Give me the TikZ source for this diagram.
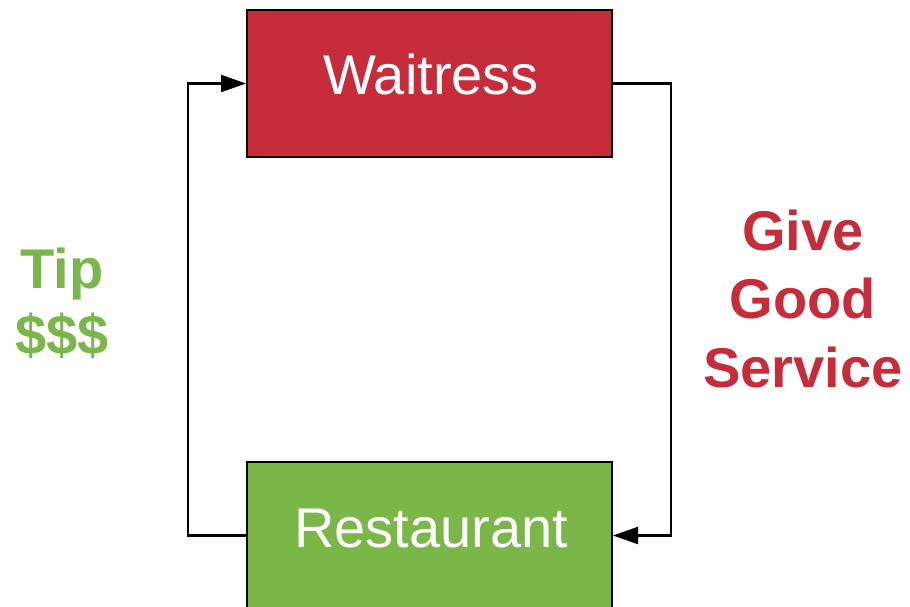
\documentclass[tikz,border=0pt]{standalone}
\usepackage{fontspec}
\setmainfont{Liberation Sans}
\usetikzlibrary{arrows.meta}
\definecolor{boxred}{HTML}{C72C3A}
\definecolor{boxgreen}{HTML}{7AB648}
\begin{document}
\begin{tikzpicture}[x=1pt,y=-1pt,
  box/.style={draw=black,line width=2pt,minimum width=365pt,minimum height=147pt,inner sep=0pt},
  boxtext/.style={text=white,font=\fontsize{56}{67}\selectfont,anchor=base,inner sep=0pt},
  lbl/.style={font=\fontsize{56}{67}\selectfont\bfseries,align=center,anchor=base,inner sep=0pt},
  conn/.style={line width=2.2pt,-{Triangle[length=25pt,width=17pt]}}]
\useasboundingbox (0,0) rectangle (910,607);
\node[box,fill=boxred] (wait) at (429.5,83.5) {};
\node[box,fill=boxgreen] (rest) at (429.5,535.5) {};
\node[boxtext] (waitt) at (431,95) {Waitress};
\node[boxtext] (restt) at (431,547) {Restaurant};
\node[lbl,text=boxgreen] (tip) at (62,288) {Tip};
\node[lbl,text=boxgreen] (dollars) at (62,354) {\$\$\$};
\node[lbl,text=boxred] (give) at (803,250) {Give};
\node[lbl,text=boxred] (good) at (803,318) {Good};
\node[lbl,text=boxred] (service) at (803,387) {Service};
\draw[conn] (rest.west) -- ++(-58,0) |- (wait.west);
\draw[conn] (wait.east) -- ++(58,0) |- (rest.east);
\end{tikzpicture}
\end{document}
